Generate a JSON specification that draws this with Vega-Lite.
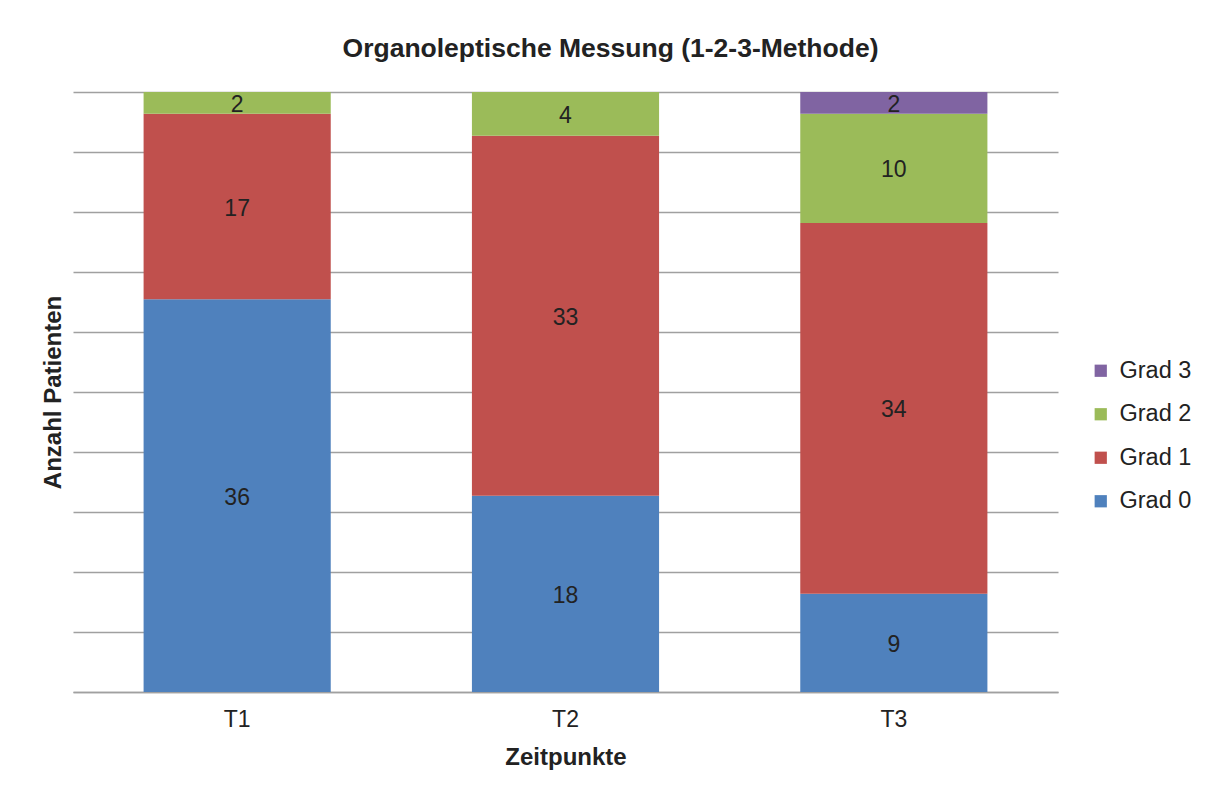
{
  "$schema": "https://vega.github.io/schema/vega-lite/v6.json",
  "width": 985,
  "height": 600,
  "autosize": {"type": "none"},
  "padding": {"left": 73, "top": 92, "right": 158, "bottom": 104},
  "background": "white",
  "config": {
    "view": {"stroke": null},
    "font": "Liberation Sans"
  },
  "title": {
    "text": "Organoleptische Messung (1-2-3-Methode)",
    "font": "Liberation Sans",
    "fontSize": 26.5,
    "fontWeight": "bold",
    "color": "#222222",
    "anchor": "middle",
    "frame": "bounds",
    "offset": 30,
    "dx": -6
  },
  "data": {
    "values": [
      {"Zeitpunkt": "T1", "Grad": "Grad 0", "Anzahl": 36},
      {"Zeitpunkt": "T1", "Grad": "Grad 1", "Anzahl": 17},
      {"Zeitpunkt": "T1", "Grad": "Grad 2", "Anzahl": 2},
      {"Zeitpunkt": "T2", "Grad": "Grad 0", "Anzahl": 18},
      {"Zeitpunkt": "T2", "Grad": "Grad 1", "Anzahl": 33},
      {"Zeitpunkt": "T2", "Grad": "Grad 2", "Anzahl": 4},
      {"Zeitpunkt": "T3", "Grad": "Grad 0", "Anzahl": 9},
      {"Zeitpunkt": "T3", "Grad": "Grad 1", "Anzahl": 34},
      {"Zeitpunkt": "T3", "Grad": "Grad 2", "Anzahl": 10},
      {"Zeitpunkt": "T3", "Grad": "Grad 3", "Anzahl": 2}
    ]
  },
  "encoding": {
    "x": {
      "field": "Zeitpunkt",
      "type": "nominal",
      "scale": {"paddingInner": 0.43, "paddingOuter": 0.215},
      "axis": {
        "title": "Zeitpunkte",
        "labelAngle": 0,
        "labelFontSize": 23,
        "labelColor": "#222222",
        "labelPadding": 16,
        "ticks": false,
        "domainColor": "#a0a0a0",
        "domainWidth": 1.5,
        "titleFontSize": 24,
        "titleFontWeight": "bold",
        "titleColor": "#222222",
        "titlePadding": 14
      }
    }
  },
  "layer": [
    {
      "mark": {"type": "bar"},
      "encoding": {
        "y": {
          "field": "Anzahl",
          "type": "quantitative",
          "stack": "normalize",
          "axis": {
            "title": "Anzahl Patienten",
            "labels": false,
            "ticks": false,
            "domain": false,
            "values": [0, 0.1, 0.2, 0.3, 0.4, 0.5, 0.6, 0.7, 0.8, 0.9, 1],
            "gridColor": "#a0a0a0",
            "gridWidth": 1.5,
            "titleFontSize": 24,
            "titleFontWeight": "bold",
            "titleColor": "#222222",
            "titlePadding": 8
          }
        },
        "order": {"field": "Grad", "sort": "ascending"},
        "color": {
          "field": "Grad",
          "type": "nominal",
          "scale": {
            "domain": ["Grad 3", "Grad 2", "Grad 1", "Grad 0"],
            "range": ["#8064A2", "#9BBB59", "#C0504D", "#4F81BD"]
          },
          "legend": {
            "title": null,
            "orient": "none",
            "legendX": 1016,
            "legendY": 267,
            "symbolType": "square",
            "symbolSize": 150,
            "symbolStrokeWidth": 0,
            "labelFontSize": 23.5,
            "labelColor": "#222222",
            "rowPadding": 18.5,
            "labelOffset": 7
          }
        }
      }
    },
    {
      "transform": [
        {"stack": "Anzahl", "groupby": ["Zeitpunkt"], "sort": [{"field": "Grad", "order": "ascending"}], "offset": "normalize", "as": ["y0", "y1"]},
        {"fold": ["y0", "y1"], "as": ["edge", "pos"]},
        {"aggregate": [{"op": "mean", "field": "pos", "as": "mid"}], "groupby": ["Zeitpunkt", "Grad", "Anzahl"]}
      ],
      "mark": {"type": "text", "fontSize": 23, "color": "#222222", "baseline": "middle", "dy": 2},
      "encoding": {
        "y": {
          "field": "mid",
          "type": "quantitative",
          "axis": {
            "title": "Anzahl Patienten",
            "labels": false,
            "ticks": false,
            "domain": false,
            "values": [0, 0.1, 0.2, 0.3, 0.4, 0.5, 0.6, 0.7, 0.8, 0.9, 1],
            "gridColor": "#a0a0a0",
            "gridWidth": 1.5,
            "titleFontSize": 24,
            "titleFontWeight": "bold",
            "titleColor": "#222222",
            "titlePadding": 8
          }
        },
        "text": {"field": "Anzahl", "type": "quantitative"}
      }
    }
  ]
}
